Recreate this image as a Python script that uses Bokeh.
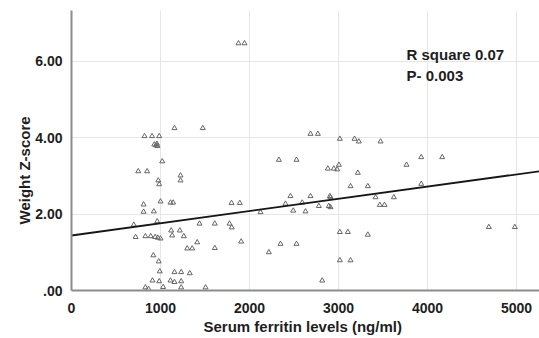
from bokeh.plotting import figure
from bokeh.models import ColumnDataSource, FixedTicker, Label, Range1d, Title
from bokeh.embed import file_html
from bokeh.resources import INLINE

# Serum ferritin (ng/ml)
ferritin = [820, 905, 985, 930, 950, 965, 960, 1019, 750, 850, 975, 985,
            810, 810, 925, 1000, 1112, 1142, 963, 700,
            720, 830, 890, 940, 970, 1000, 1131, 1262, 1120, 1217,
            920, 980, 992, 1157, 1232, 1329,
            910, 985, 1112, 1157, 1232, 830, 865, 1030, 1232, 1506,
            1157, 1475, 1225, 1225, 1300, 1356, 1412, 1438, 1610, 1610,
            1775, 1800, 1798, 1891, 1906, 1876, 1944,
            2124, 2217, 2348, 2528, 2330, 2528, 2404, 2592,
            2460, 2685, 2903, 2491, 2629, 2779, 2891, 2685, 2768, 2817,
            2880, 2947, 2910, 2910, 2985, 3004,
            3015, 3180, 3228, 3472, 3217, 3135, 3329, 3015, 3105, 3329,
            3015, 3135, 3416, 3622, 3464, 3517, 3764, 3929, 4165, 3929,
            4689, 4981]
# Weight Z-score
weight_z = [4.04, 4.04, 4.04, 3.82, 3.80, 3.78, 3.84, 3.38, 3.12, 3.12, 2.88, 2.78,
            2.25, 2.06, 2.07, 2.33, 2.30, 2.30, 1.81, 1.72,
            1.40, 1.42, 1.42, 1.40, 1.38, 1.36, 1.44, 1.42, 1.57, 1.57,
            0.92, 0.76, 0.50, 0.48, 0.48, 0.45,
            0.26, 0.24, 0.26, 0.22, 0.24, 0.08, 0.04, 0.09, 0.08, 0.08,
            4.25, 4.25, 3.01, 2.88, 1.10, 1.10, 1.26, 1.75, 1.75, 1.11,
            1.75, 1.65, 2.29, 2.29, 1.28, 6.47, 6.47,
            2.05, 1.00, 1.22, 1.22, 3.42, 3.42, 2.27, 2.30,
            2.47, 2.47, 2.47, 2.09, 2.07, 2.21, 2.21, 4.10, 4.10, 0.26,
            3.19, 3.19, 2.44, 2.18, 3.17, 3.29,
            3.97, 3.97, 3.90, 3.90, 3.08, 2.73, 2.73, 1.53, 1.53, 1.46,
            0.79, 0.79, 2.44, 2.44, 2.24, 2.24, 3.29, 3.49, 3.49, 2.79,
            1.66, 1.66]

fit_intercept = 1.44
fit_slope = 0.00032

x_ticks = [0, 1000, 2000, 3000, 4000, 5000]
y_ticks = [0, 2, 4, 6]
y_tick_labels = [".00", "2.00", "4.00", "6.00"]
x_max = 5258
y_max = 7.33

x_title = "Serum ferritin levels (ng/ml)"
y_title = "Weight Z-score"
stats_lines = ["R square 0.07", "P- 0.003"]

FONT = "Liberation Sans"
TXT = "#1e1e1e"

p = figure(width=539, height=338, output_backend="svg", toolbar_location=None,
           x_range=Range1d(0, x_max), y_range=Range1d(0, y_max),
           min_border_left=71, min_border_right=0, min_border_top=10, min_border_bottom=48)
p.outline_line_color = None

src = ColumnDataSource(dict(x=ferritin, y=weight_z))
p.scatter("x", "y", source=src, marker="triangle", size=5,
          fill_alpha=0, line_color="#666666", line_width=1)

fx = [0, x_max]
fy = [fit_intercept + fit_slope * v for v in fx]
p.line(fx, fy, line_color="#161616", line_width=1.8)

for ax in (p.xaxis[0], p.yaxis[0]):
    ax.axis_line_color = "#8c8c8c"
    ax.axis_line_width = 2
    ax.major_tick_line_color = None
    ax.minor_tick_line_color = None
    ax.major_label_text_font = FONT
    ax.major_label_text_font_size = "14px"
    ax.major_label_text_font_style = "bold"
    ax.major_label_text_color = TXT

p.xaxis.ticker = FixedTicker(ticks=x_ticks)
p.yaxis.ticker = FixedTicker(ticks=y_ticks)
p.yaxis.major_label_overrides = {t: l for t, l in zip(y_ticks, y_tick_labels)}
p.xaxis.major_label_standoff = 6
p.yaxis.major_label_standoff = 3

p.xgrid.ticker = FixedTicker(ticks=x_ticks)
p.ygrid.ticker = FixedTicker(ticks=y_ticks)
p.grid.grid_line_color = "#e6e6e6"
p.grid.grid_line_width = 1

# axis titles as side-panel titles so their position along the axis can be set
p.add_layout(Title(text=y_title, align="left", offset=66, standoff=0,
                   text_font=FONT, text_font_size="15px", text_font_style="bold",
                   text_color=TXT), "left")
p.add_layout(Title(text=x_title, align="left", offset=132, standoff=0,
                   text_font=FONT, text_font_size="15px", text_font_style="bold",
                   text_color=TXT), "below")

for i, s in enumerate(stats_lines):
    p.add_layout(Label(x=3764, y=6.18 - 0.55 * i, text=s, text_font=FONT,
                       text_font_size="15px", text_font_style="bold",
                       text_color=TXT, text_baseline="middle"))

open("out.html", "w").write(file_html(p, INLINE))
